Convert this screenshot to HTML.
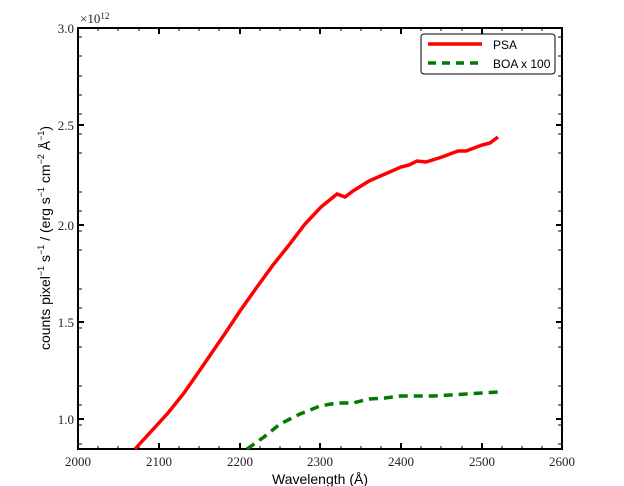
<!DOCTYPE html>
<html><head><style>body{margin:0;background:#fff}svg{display:block}</style></head><body>
<svg width="624" height="486" xmlns="http://www.w3.org/2000/svg">
<rect width="624" height="486" fill="#fff"/>
<g stroke="#000" stroke-width="1">
<path d="M78,449V44M78,444h4M562,444h-4M78,425h4M562,425h-4M78,405h4M562,405h-4M78,386h4M562,386h-4M78,347h4M562,347h-4M78,328h4M562,328h-4M78,308h4M562,308h-4M78,289h4M562,289h-4M78,250h4M562,250h-4M78,231h4M562,231h-4M78,211h4M562,211h-4M78,192h4M562,192h-4M78,153h4M562,153h-4M78,134h4M562,134h-4M78,114h4M562,114h-4M78,95h4M562,95h-4M78,76h4M562,76h-4M78,56h4M562,56h-4M78,37h4M562,37h-4"/>
<path d="M98,449v-3M98,28v3M118,449v-3M118,28v3M139,449v-3M139,28v3M179,449v-3M179,28v3M199,449v-3M199,28v3M219,449v-3M219,28v3M260,449v-3M260,28v3M280,449v-3M280,28v3M300,449v-3M300,28v3M341,449v-3M341,28v3M361,449v-3M361,28v3M381,449v-3M381,28v3M421,449v-3M421,28v3M441,449v-3M441,28v3M462,449v-3M462,28v3M502,449v-3M502,28v3M522,449v-3M522,28v3M542,449v-3M542,28v3"/>
</g>
<g stroke="#000" stroke-width="2">
<rect x="78" y="28" width="484" height="421" fill="none"/>
<path d="M159,449v-6M159,28v6M240,449v-6M240,28v6M320,449v-6M320,28v6M401,449v-6M401,28v6M482,449v-6M482,28v6M78,419h6M562,419h-6M78,322h6M562,322h-6M78,225h6M562,225h-6M78,125h6M562,125h-6"/>
</g>
<polyline fill="none" stroke="#f00" stroke-width="3.5" points="135,449 168,413 184,393 200,370 224,335 240,311 257,287 273,265 289,245 305,224 321,207 337,194 345,197 353,191 369,181 385,174 401,167 409,165 417,161 426,162 442,157 458,151 466,151 482,145 490,143 498,137"/>
<polyline fill="none" stroke="#007a00" stroke-width="3.5" stroke-dasharray="9,6" points="247,449 264,437 280,424 300,414 320,406 337,403 353,403 369,399 385,398 401,396 417,396 433,396 450,395 466,394 482,393 498,392"/>
<g font-family="Liberation Serif,serif" font-size="13" fill="#222">
<g text-anchor="end"><text x="74" y="424">1.0</text><text x="74" y="327">1.5</text><text x="74" y="230">2.0</text><text x="74" y="130">2.5</text><text x="74" y="33">3.0</text></g>
<g text-anchor="middle"><text x="78" y="466">2000</text><text x="159" y="466">2100</text><text x="240" y="466">2200</text><text x="320" y="466">2300</text><text x="401" y="466">2400</text><text x="482" y="466">2500</text><text x="562" y="466">2600</text></g>
<text x="80" y="23">×10<tspan font-size="9" dy="-4">12</tspan></text>
</g>
<text x="320" y="484" text-anchor="middle" font-family="Liberation Sans,sans-serif" font-size="14">Wavelength (Å)</text>
<text transform="translate(50,238) rotate(-90)" text-anchor="middle" font-family="Liberation Sans,sans-serif" font-size="14">counts pixel<tspan font-size="9" dy="-6">−1</tspan><tspan dy="6"> s</tspan><tspan font-size="9" dy="-6">−1</tspan><tspan dy="6"> / (erg s</tspan><tspan font-size="9" dy="-6">−1</tspan><tspan dy="6"> cm</tspan><tspan font-size="9" dy="-6">−2</tspan><tspan dy="6"> Å</tspan><tspan font-size="9" dy="-6">−1</tspan><tspan dy="6">)</tspan></text>
<rect x="421" y="34" width="134" height="40" rx="3" fill="#fff" stroke="#000" stroke-width="1"/>
<line x1="428" y1="44" x2="482" y2="44" stroke="#f00" stroke-width="3.5"/>
<line x1="428" y1="63" x2="482" y2="63" stroke="#007a00" stroke-width="3.5" stroke-dasharray="8,6"/>
<g font-family="Liberation Sans,sans-serif" font-size="12"><text x="493" y="49">PSA</text><text x="493" y="68">BOA x 100</text></g>
</svg>
</body></html>
